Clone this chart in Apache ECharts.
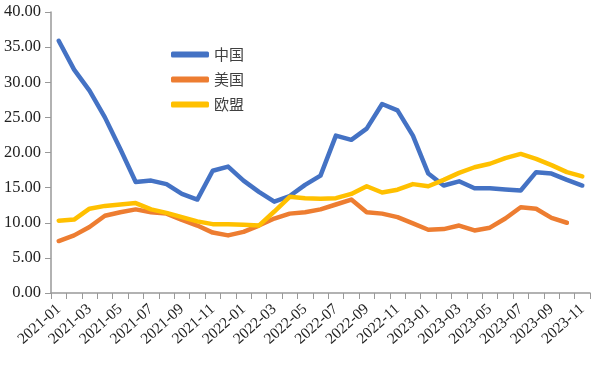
<!DOCTYPE html>
<html><head><meta charset="utf-8">
<script src="https://cdn.jsdelivr.net/npm/echarts@6/dist/echarts.min.js"></script>
<style>html,body{margin:0;padding:0;background:#fff}#c{width:597px;height:371px}</style>
</head><body><div id="c"></div>
<script>
const categories = ['2021-01','2021-02','2021-03','2021-04','2021-05','2021-06','2021-07','2021-08','2021-09','2021-10','2021-11','2021-12',
'2022-01','2022-02','2022-03','2022-04','2022-05','2022-06','2022-07','2022-08','2022-09','2022-10','2022-11','2022-12',
'2023-01','2023-02','2023-03','2023-04','2023-05','2023-06','2023-07','2023-08','2023-09','2023-10','2023-11'];
const china = [35.9,31.8,28.8,25.0,20.5,15.8,16.0,15.5,14.1,13.3,17.4,18.0,
16.0,14.4,13.0,13.8,15.4,16.7,22.4,21.8,23.4,26.9,26.0,22.4,
17.0,15.3,15.9,14.9,14.9,14.75,14.6,17.2,17.0,16.1,15.3];
const usa = [7.4,8.2,9.4,11.0,11.5,11.9,11.5,11.3,10.4,9.6,8.6,8.2,
8.7,9.6,10.6,11.3,11.5,11.9,12.6,13.3,11.5,11.3,10.8,9.9,
9.0,9.1,9.6,8.9,9.3,10.6,12.2,12.0,10.7,10.0,null];
const eu = [10.3,10.45,12.0,12.4,12.6,12.8,11.9,11.4,10.8,10.2,9.8,9.8,
9.7,9.6,11.6,13.7,13.5,13.4,13.5,14.1,15.2,14.3,14.7,15.5,
15.2,16.1,17.1,17.9,18.4,19.2,19.8,19.1,18.2,17.2,16.6];
const yTicks = {min:0, max:40, interval:5};

const chart = echarts.init(document.getElementById('c'), null, {renderer:'canvas'});
const mk = (name, data, color) => ({
  name, type:'line', data, symbol:'none', smooth:false, connectNulls:false,
  lineStyle:{width:4.5, color, cap:'round', join:'round'}, itemStyle:{color}
});
chart.setOption({
  animation:false,
  grid:{left:51, right:7, top:12, bottom:78, containLabel:false},
  legend:{
    orient:'vertical', left:166, top:42, itemGap:10, itemWidth:38, itemHeight:6,
    icon:'roundRect',
    textStyle:{fontFamily:'"Noto Sans CJK SC"', fontSize:15, color:'#404040'},
    data:['中国','美国','欧盟']
  },
  xAxis:{
    type:'category', data:categories, boundaryGap:true,
    axisLine:{lineStyle:{color:'#999', width:1.5}},
    axisTick:{show:true, interval:0, length:6, lineStyle:{color:'#999'}},
    axisLabel:{interval:1, rotate:42, margin:14, fontFamily:'"Liberation Serif"', fontSize:15.5, color:'#222'}
  },
  yAxis:{
    type:'value', min:yTicks.min, max:yTicks.max, interval:yTicks.interval,
    splitLine:{show:false},
    axisLine:{show:true, lineStyle:{color:'#999', width:1.5}},
    axisTick:{show:true, length:6, lineStyle:{color:'#999'}},
    axisLabel:{formatter:v=>v.toFixed(2), margin:10, fontFamily:'"Liberation Serif"', fontSize:16.5, color:'#222'}
  },
  series:[mk('中国', china, '#4472C4'), mk('美国', usa, '#ED7D31'), mk('欧盟', eu, '#FFC000')]
});
</script></body></html>
